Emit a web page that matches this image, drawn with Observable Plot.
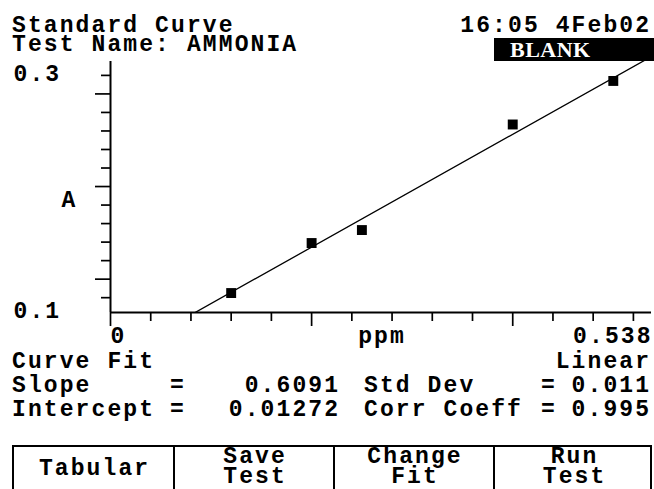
<!DOCTYPE html>
<html><head><meta charset="utf-8">
<script src="https://cdn.jsdelivr.net/npm/d3@7"></script>
<script src="https://cdn.jsdelivr.net/npm/@observablehq/plot@0.6"></script>
<style>
html,body{margin:0;padding:0;background:#fff;}
#screen{position:relative;width:654px;height:489px;overflow:hidden;background:#fff;color:#000;
 font-family:"Liberation Mono",monospace;font-weight:bold;font-size:23px;letter-spacing:2.1px;}
#plot{position:absolute;left:0;top:0;}
#plot svg text{letter-spacing:2.1px;}
.t{position:absolute;white-space:pre;line-height:16px;}
.m{position:absolute;white-space:pre;}
#blank{position:absolute;left:494px;top:38px;width:170px;height:23px;background:#000;}
#blank span{position:absolute;left:16px;top:3px;color:#fff;font-family:"Liberation Serif",serif;font-weight:bold;font-size:22px;letter-spacing:0.5px;line-height:18px;}
#buttons{position:absolute;left:12px;top:445px;width:636px;height:60px;border:2px solid #000;}
.div{position:absolute;top:445px;width:2px;height:60px;background:#000;}
</style></head><body><div id="screen"><div id="plot"></div></div>
<script>
// ---- data ----
const ppm = [0.12, 0.20, 0.25, 0.40, 0.50];
const absorbance = [0.085, 0.139, 0.153, 0.267, 0.314];
const slope = 0.6091;
const intercept = 0.01272;
const stdDev = "0.011";
const corrCoeff = "0.995";
const xDomain = [0, 0.538];
const yDomain = [0.064, 0.335];
const xTicksMinor = [0.04, 0.08, 0.12, 0.16, 0.24, 0.28, 0.32, 0.36, 0.44, 0.48, 0.52];
const xTicksMajor = [0, 0.2, 0.4];
const yTicksMinor = [0.08, 0.12, 0.14, 0.16, 0.18, 0.22, 0.24, 0.26, 0.28, 0.32];
const yTicksMajor = [0.1, 0.2, 0.3];
const xLabel = "ppm";
const yLabel = "A";
const headerLines = ["Standard Curve", "Test Name: AMMONIA"];
const timestamp = "16:05 4Feb02";
const status = "BLANK";
const fitType = ["Curve Fit", "Linear"];
const statRows = [
  ["Slope", String(slope), "Std Dev", stdDev],
  ["Intercept", String(intercept), "Corr Coeff", corrCoeff]
];
const buttons = [["Tabular"], ["Save", "Test"], ["Change", "Fit"], ["Run", "Test"]];

// ---- chart ----
const points = ppm.map((x, i) => ({ppm: x, A: absorbance[i]}));
const fit = xDomain.map(x => ({ppm: x, A: slope * x + intercept}));
const LS = 2.1;

const chart = Plot.plot({
  width: 654, height: 489,
  marginLeft: 110, marginRight: 3, marginTop: 61, marginBottom: 177,
  x: {domain: xDomain, label: null},
  y: {domain: yDomain, label: null},
  style: {background: "transparent", color: "#000", fontFamily: "'Liberation Mono', monospace",
          fontSize: "23px", fontWeight: "bold", overflow: "visible"},
  marks: [
    Plot.axisY({ticks: yTicksMinor, tickSize: 9, tickFormat: () => "", strokeWidth: 1.7, label: null}),
    Plot.axisY({ticks: yTicksMajor, tickSize: 15, tickFormat: () => "", strokeWidth: 1.7, label: null}),
    Plot.axisX({ticks: xTicksMinor, tickSize: 9, tickFormat: () => "", strokeWidth: 1.7, label: null}),
    Plot.axisX({ticks: xTicksMajor, tickSize: 14, tickFormat: () => "", strokeWidth: 1.7, label: null}),
    Plot.axisY({ticks: [yDomain[1]], tickSize: 0, tickPadding: 0, tickFormat: d3.format(".1f"),
                textAnchor: "start", lineAnchor: "bottom", dx: -97, dy: 19, label: null}),
    Plot.axisY({ticks: [yDomain[0]], tickSize: 0, tickPadding: 0, tickFormat: d3.format(".1f"),
                textAnchor: "start", lineAnchor: "bottom", dx: -97, dy: 5, label: null}),
    Plot.axisX({ticks: [xDomain[0]], tickSize: 0, tickPadding: 0, tickFormat: d => String(d),
                textAnchor: "start", lineAnchor: "bottom", dy: 30, label: null}),
    Plot.axisX({ticks: [xDomain[1]], tickSize: 0, tickPadding: 0, tickFormat: d => String(d),
                textAnchor: "end", lineAnchor: "bottom", dx: LS - 1, dy: 30, label: null}),
    Plot.text([xLabel], {text: d => d, frameAnchor: "bottom", lineAnchor: "bottom", dy: 30, dx: 1}),
    Plot.text([yLabel], {text: d => d, frameAnchor: "left", lineAnchor: "bottom", dx: -49, dy: 19.5}),
    Plot.ruleX([xDomain[0]], {strokeWidth: 2}),
    Plot.ruleY([yDomain[0]], {strokeWidth: 2}),
    Plot.line(fit, {x: "ppm", y: "A", stroke: "#000", strokeWidth: 1.3, clip: true}),
    Plot.dot(points, {x: "ppm", y: "A", symbol: "square", r: 5.6, fill: "#000", stroke: null})
  ]
});
document.getElementById("plot").appendChild(chart);

// ---- screen text ----
const screen = document.getElementById("screen");
const ASC = 14.1;
function put(str, o) {
  const s = document.createElement("div");
  s.className = "t";
  s.textContent = str;
  s.style.top = (o.baseline - ASC) + "px";
  if (o.left !== undefined) s.style.left = o.left + "px";
  if (o.right !== undefined) s.style.right = (654 - o.right - LS) + "px";
  if (o.center !== undefined) { s.style.left = (o.center + LS / 2) + "px"; s.style.transform = "translateX(-50%)"; }
  screen.appendChild(s);
  return s;
}
// multi-line block: first baseline given, line pitch lh
function putBlock(lines, o) {
  const s = document.createElement("div");
  s.className = "m";
  s.style.lineHeight = o.lh + "px";
  s.textContent = lines.join("\n");
  const asc = (o.lh - 23 * 1.1328) / 2 + 23 * 0.8325;
  s.style.top = (o.baseline - asc) + "px";
  if (o.left !== undefined) s.style.left = o.left + "px";
  if (o.center !== undefined) {
    s.style.left = (o.center + LS / 2) + "px";
    s.style.transform = "translateX(-50%)";
    s.style.textAlign = "center";
  }
  screen.appendChild(s);
  return s;
}
putBlock(headerLines, {left: 12, baseline: 33, lh: 19});
put(timestamp, {right: 649, baseline: 32});
const blank = document.createElement("div");
blank.id = "blank";
const bs = document.createElement("span");
bs.textContent = status;
blank.appendChild(bs);
screen.appendChild(blank);

put(fitType[0], {left: 12, baseline: 368});
put(fitType[1], {right: 649, baseline: 368});
statRows.forEach((r, i) => {
  const b = 392 + i * 24;
  put(r[0], {left: 12, baseline: b});
  put("=", {center: 177, baseline: b});
  put(r[1], {right: 338, baseline: b});
  put(r[2], {left: 364, baseline: b});
  put("=", {center: 548, baseline: b});
  put(r[3], {right: 649, baseline: b});
});

const box = document.createElement("div");
box.id = "buttons";
screen.appendChild(box);
const edges = [12, 173, 333, 493, 652];
[173, 333, 493].forEach(x => {
  const d = document.createElement("div");
  d.className = "div";
  d.style.left = x + "px";
  screen.appendChild(d);
});
buttons.forEach((lines, i) => {
  const c = (edges[i] + edges[i + 1]) / 2 + 1;
  if (lines.length === 1) put(lines[0], {center: c, baseline: 475});
  else putBlock(lines, {center: c, baseline: 463, lh: 20});
});
</script></body></html>
